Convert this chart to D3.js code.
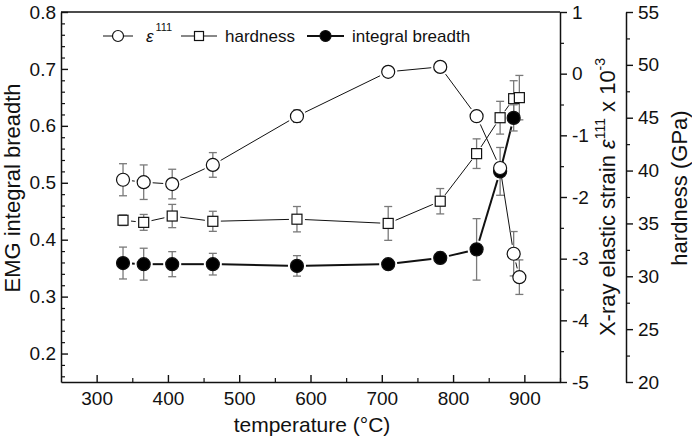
<!DOCTYPE html>
<html>
<head>
<meta charset="utf-8">
<script src="https://cdn.jsdelivr.net/npm/d3@7"></script>
<style>
    body { margin: 0; background: #fff; }
    svg text { font-family: "Liberation Sans", Arial, sans-serif; fill: #111; }
</style>
</head>
<body>
<div id="chart"></div>
<script>
// data
var temperature = [337, 366, 406, 463, 581, 709, 782, 833, 866, 885, 893];
var strain = [-1.72, -1.76, -1.79, -1.48, -0.69, 0.03, 0.11, -0.69, -1.53, -2.92, -3.30];
var strainErr = [0.26, 0.28, 0.24, 0.20, 0.10, 0, 0, 0.08, 0.08, 0.36, 0.28];
var hardness = [35.3, 35.1, 35.7, 35.2, 35.4, 35.0, 37.1, 41.6, 45.0, 46.8, 46.9];
var hardnessErr = [0.5, 0.75, 1.1, 0.95, 1.2, 1.6, 1.2, 1.4, 1.55, 1.7, 2.1];
var breadthTemp = [337, 366, 406, 463, 581, 709, 782, 833, 866, 885];
var breadth = [0.359, 0.357, 0.357, 0.357, 0.354, 0.357, 0.368, 0.383, 0.520, 0.614];
var breadthErr = [0.028, 0.028, 0.022, 0.019, 0.018, 0.005, 0.010, 0.054, 0.042, 0.023];

var xTicks = [300, 400, 500, 600, 700, 800, 900];
var xMinor = [350, 450, 550, 650, 750, 850, 950];
var breadthTicks = [0.2, 0.3, 0.4, 0.5, 0.6, 0.7, 0.8];
var strainTicks = [-5, -4, -3, -2, -1, 0, 1];
var strainMinor = [-4.5, -3.5, -2.5, -1.5, -0.5, 0.5];
var hardnessTicks = [20, 25, 30, 35, 40, 45, 50, 55];
var hardnessMinor = [22.5, 27.5, 32.5, 37.5, 42.5, 47.5, 52.5];

var chart = (function () {
    var W = 692, H = 439;
    var left = 61, right = 560, top = 12, bottom = 382;
    var FONT = '"Liberation Sans", Arial, sans-serif';

    var x = d3.scaleLinear().domain([250, 950]).range([left, right]);
    var yB = d3.scaleLinear().domain([0.15, 0.8]).range([bottom, top]);
    var yS = d3.scaleLinear().domain([-5, 1]).range([bottom, top]);
    var yH = d3.scaleLinear().domain([20, 55]).range([bottom, top]);

    function styleAxis(g) {
        g.attr("font-family", FONT).attr("font-size", 19);
        g.selectAll("path.domain").attr("stroke", "#111").attr("stroke-width", 1.5);
        g.selectAll(".tick line").attr("stroke", "#111").attr("stroke-width", 1.4);
        g.selectAll(".tick text").attr("fill", "#111");
    }

    function minorTicks(g) {
        g.select("path.domain").remove();
        g.selectAll(".tick line").attr("stroke", "#111").attr("stroke-width", 1.2);
    }

    // shorten each segment so it stops short of the markers
    function gapSegments(pts, gap) {
        var out = [];
        for (var i = 0; i < pts.length - 1; i++) {
            var a = pts[i], b = pts[i + 1];
            var dx = b[0] - a[0], dy = b[1] - a[1];
            var len = Math.sqrt(dx * dx + dy * dy);
            if (len <= 2 * gap + 1) continue;
            var ux = dx / len, uy = dy / len;
            out.push([a[0] + ux * gap, a[1] + uy * gap, b[0] - ux * gap, b[1] - uy * gap]);
        }
        return out;
    }

    function series(svg, xs, vs, es, y, opts) {
        var g = svg.append("g");
        var pts = xs.map(function (t, i) { return [x(t), y(vs[i])]; });

        g.selectAll("line.seg")
            .data(gapSegments(pts, opts.gap))
            .enter().append("line")
            .attr("class", "seg")
            .attr("x1", function (d) { return d[0]; })
            .attr("y1", function (d) { return d[1]; })
            .attr("x2", function (d) { return d[2]; })
            .attr("y2", function (d) { return d[3]; })
            .attr("stroke", "#111")
            .attr("stroke-width", opts.lw);

        var err = xs.map(function (t, i) { return {t: t, v: vs[i], e: es[i]}; })
            .filter(function (d) { return d.e > 0; });
        var eg = g.selectAll("g.err").data(err).enter().append("g")
            .attr("stroke", "#7a7a7a").attr("stroke-width", 1.3);
        eg.append("line")
            .attr("x1", function (d) { return x(d.t); })
            .attr("x2", function (d) { return x(d.t); })
            .attr("y1", function (d) { return y(d.v - d.e); })
            .attr("y2", function (d) { return y(d.v + d.e); });
        [-1, 1].forEach(function (s) {
            eg.append("line")
                .attr("x1", function (d) { return x(d.t) - 4; })
                .attr("x2", function (d) { return x(d.t) + 4; })
                .attr("y1", function (d) { return y(d.v + s * d.e); })
                .attr("y2", function (d) { return y(d.v + s * d.e); });
        });

        var data = xs.map(function (t, i) { return {t: t, v: vs[i]}; });
        if (opts.marker === "square") {
            g.selectAll("rect.mk").data(data).enter().append("rect")
                .attr("x", function (d) { return x(d.t) - 5; })
                .attr("y", function (d) { return y(d.v) - 5; })
                .attr("width", 10).attr("height", 10)
                .attr("fill", "#fff").attr("stroke", "#111").attr("stroke-width", 1.2);
        } else {
            g.selectAll("circle.mk").data(data).enter().append("circle")
                .attr("cx", function (d) { return x(d.t); })
                .attr("cy", function (d) { return y(d.v); })
                .attr("r", 6.5)
                .attr("fill", opts.marker === "filled" ? "#000" : "#fff")
                .attr("stroke", "#111").attr("stroke-width", 1.2);
        }
    }

    function legendItem(svg, x0, x1, y, marker, lw) {
        svg.append("line").attr("x1", x0).attr("x2", x1).attr("y1", y).attr("y2", y)
            .attr("stroke", "#111").attr("stroke-width", lw);
        var cx = (x0 + x1) / 2;
        if (marker === "square") {
            svg.append("rect").attr("x", cx - 4.5).attr("y", y - 4.5).attr("width", 9).attr("height", 9)
                .attr("fill", "#fff").attr("stroke", "#111").attr("stroke-width", 1.2);
        } else {
            svg.append("circle").attr("cx", cx).attr("cy", y).attr("r", 5.5)
                .attr("fill", marker === "filled" ? "#000" : "#fff")
                .attr("stroke", "#111").attr("stroke-width", 1.2);
        }
    }

    return {
        draw: function (placement) {
            d3.select(placement).html("");
            var svg = d3.select(placement).append("svg")
                .attr("width", W).attr("height", H);

            // top frame line
            svg.append("line").attr("x1", left).attr("x2", right).attr("y1", top).attr("y2", top)
                .attr("stroke", "#111").attr("stroke-width", 1.5);

            // left axis
            svg.append("g").attr("transform", "translate(" + left + ",0)")
                .call(d3.axisLeft(yB).tickValues(breadthTicks).tickSizeInner(-7).tickSizeOuter(0)
                    .tickPadding(5).tickFormat(d3.format(".1f")))
                .call(styleAxis);
            var bMinor = d3.range(0.16, 0.795, 0.02).filter(function (v) {
                return Math.abs(v * 10 - Math.round(v * 10)) > 0.01;
            });
            svg.append("g").attr("transform", "translate(" + left + ",0)")
                .call(d3.axisLeft(yB).tickValues(bMinor).tickSize(-4).tickFormat(""))
                .call(minorTicks);

            // bottom axis
            svg.append("g").attr("transform", "translate(0," + bottom + ")")
                .call(d3.axisBottom(x).tickValues(xTicks).tickSizeInner(-7).tickSizeOuter(0).tickPadding(10))
                .call(styleAxis);
            svg.append("g").attr("transform", "translate(0," + bottom + ")")
                .call(d3.axisBottom(x).tickValues(xMinor).tickSize(-4).tickFormat(""))
                .call(minorTicks);

            // strain axis
            svg.append("g").attr("transform", "translate(" + right + ",0)")
                .call(d3.axisRight(yS).tickValues(strainTicks).tickSizeInner(7).tickSizeOuter(0)
                    .tickPadding(5).tickFormat(function (d) { return String(d); }))
                .call(styleAxis);
            svg.append("g").attr("transform", "translate(" + right + ",0)")
                .call(d3.axisRight(yS).tickValues(strainMinor).tickSize(4).tickFormat(""))
                .call(minorTicks);

            // hardness axis
            svg.append("g").attr("transform", "translate(626,0)")
                .call(d3.axisRight(yH).tickValues(hardnessTicks).tickSizeInner(7).tickSizeOuter(0)
                    .tickPadding(5).tickFormat(function (d) { return String(d); }))
                .call(styleAxis);
            svg.append("g").attr("transform", "translate(626,0)")
                .call(d3.axisRight(yH).tickValues(hardnessMinor).tickSize(4).tickFormat(""))
                .call(minorTicks);

            // axis titles
            svg.append("text").attr("transform", "translate(20,188) rotate(-90)")
                .attr("text-anchor", "middle").attr("font-size", 22).text("EMG integral breadth");
            svg.append("text").attr("x", 312).attr("y", 432)
                .attr("text-anchor", "middle").attr("font-size", 21).text("temperature (\u00B0C)");
            var st = svg.append("text").attr("transform", "translate(615,197) rotate(-90)")
                .attr("text-anchor", "middle").attr("font-size", 22);
            st.append("tspan").text("X-ray elastic strain ");
            st.append("tspan").attr("font-style", "italic").text("\u03B5");
            st.append("tspan").attr("font-size", 14).attr("dy", -10).text("111");
            st.append("tspan").attr("dy", 10).text(" x 10");
            st.append("tspan").attr("font-size", 14).attr("dy", -10).text("-3");
            svg.append("text").attr("transform", "translate(687,188) rotate(-90)")
                .attr("text-anchor", "middle").attr("font-size", 22).text("hardness (GPa)");

            // series
            series(svg, temperature, hardness, hardnessErr, yH, {marker: "square", lw: 1, gap: 8});
            series(svg, breadthTemp, breadth, breadthErr, yB, {marker: "filled", lw: 2, gap: 9});
            series(svg, temperature, strain, strainErr, yS, {marker: "open", lw: 1, gap: 9});

            // legend
            var ly = 36;
            legendItem(svg, 103, 133, ly, "open", 1);
            var lt = svg.append("text").attr("x", 146).attr("y", ly + 6).attr("font-size", 17);
            lt.append("tspan").attr("font-style", "italic").text("\u03B5");
            lt.append("tspan").attr("font-size", 11).attr("dy", -11).attr("dx", 2).text("111");
            legendItem(svg, 181, 217, ly, "square", 1);
            svg.append("text").attr("x", 225).attr("y", ly + 6).attr("font-size", 17).text("hardness");
            legendItem(svg, 307, 344, ly, "filled", 2);
            svg.append("text").attr("x", 352).attr("y", ly + 6).attr("font-size", 17).text("integral breadth");
        }
    }
})();

chart.draw("#chart");
</script>
</body>
</html>
